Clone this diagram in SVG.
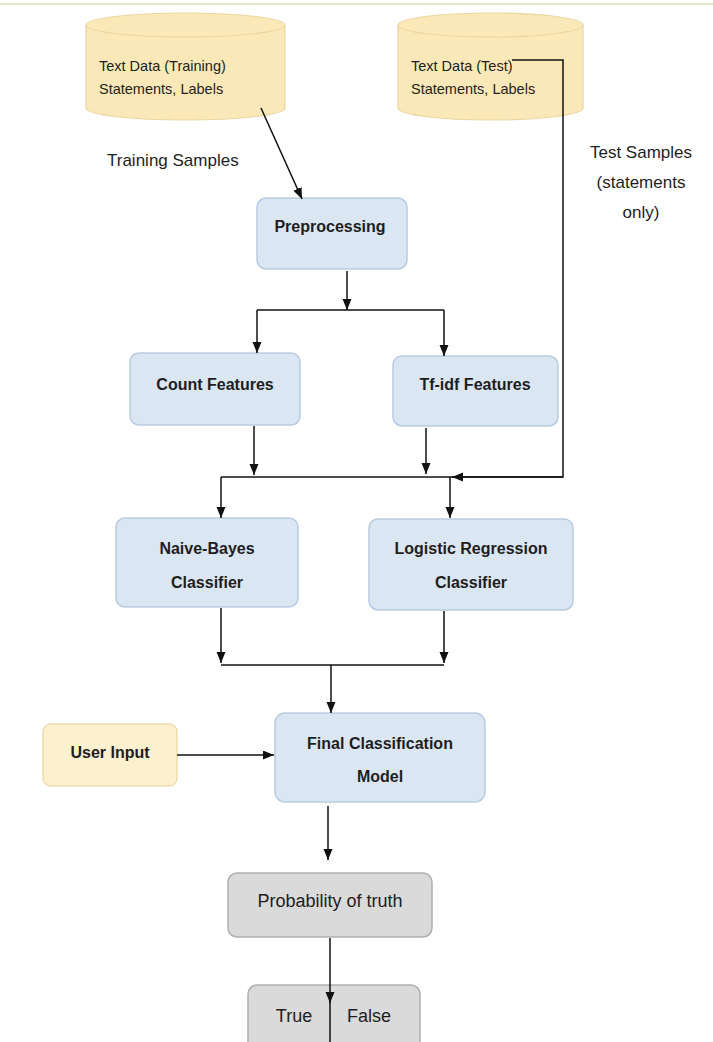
<svg xmlns="http://www.w3.org/2000/svg" width="713" height="1042" viewBox="0 0 713 1042">
<style>
.bg{fill:#ffffff}
.cyl{fill:#fbe8b8;stroke:#ead6a0;stroke-width:1.2}
.blue{fill:#dbe6f3;stroke:#b9cbe0;stroke-width:1.5}
.yel{fill:#fdf0cf;stroke:#ecdcae;stroke-width:1.5}
.gray{fill:#dadada;stroke:#aeaeae;stroke-width:1.5}
.t{font-family:"Liberation Sans",Arial,sans-serif;fill:#1e1e1e}
.b{font-weight:bold;font-size:16px;text-anchor:middle}
.s{font-size:14.5px}
.lbl{font-size:17px}
.g{font-size:18px;text-anchor:middle}
.c{fill:none;stroke:#111;stroke-width:1.5}
</style>
<defs>
<marker id="ah" markerUnits="userSpaceOnUse" markerWidth="12" markerHeight="10" refX="11" refY="4.5" orient="auto">
<path d="M0,0 L11,4.5 L0,9 Z" fill="#111"/>
</marker>
</defs>
<rect class="bg" x="0" y="0" width="713" height="1042"/>
<line x1="0" y1="4" x2="713" y2="4" stroke="#e4e6c6" stroke-width="2"/>

<g id="train-data">
<path class="cyl" d="M86,25 A99.5,12 0 0 1 285,25 L285,108 A99.5,12 0 0 1 86,108 Z"/>
<path class="cyl" d="M86,25 A99.5,12 0 0 0 285,25" fill="none"/>
<text class="t s" x="99" y="71">Text Data (Training)</text>
<text class="t s" x="99" y="94">Statements, Labels</text>
</g>

<g id="test-data">
<path class="cyl" d="M398,25 A92.5,12 0 0 1 583,25 L583,108 A92.5,12 0 0 1 398,108 Z"/>
<path class="cyl" d="M398,25 A92.5,12 0 0 0 583,25" fill="none"/>
<text class="t s" x="411" y="71">Text Data (Test)</text>
<text class="t s" x="411" y="94">Statements, Labels</text>
</g>

<g id="label-training">
<text class="t lbl" x="107" y="166">Training Samples</text>
</g>
<g id="label-test">
<text class="t lbl" x="641" y="158" text-anchor="middle">Test Samples</text>
<text class="t lbl" x="641" y="188" text-anchor="middle">(statements</text>
<text class="t lbl" x="641" y="218" text-anchor="middle">only)</text>
</g>

<g id="preprocessing">
<rect class="blue" x="257" y="198" width="150" height="71" rx="9"/>
<text class="t b" x="330" y="232">Preprocessing</text>
</g>

<g id="count-features">
<rect class="blue" x="130" y="353" width="170" height="72" rx="9"/>
<text class="t b" x="215" y="390">Count Features</text>
</g>

<g id="tfidf-features">
<rect class="blue" x="393" y="356" width="165" height="70" rx="9"/>
<text class="t b" x="475" y="390">Tf-idf Features</text>
</g>

<g id="naive-bayes">
<rect class="blue" x="116" y="518" width="182" height="89" rx="9"/>
<text class="t b" x="207" y="554">Naive-Bayes</text>
<text class="t b" x="207" y="588">Classifier</text>
</g>

<g id="logistic-regression">
<rect class="blue" x="369" y="519" width="204" height="91" rx="9"/>
<text class="t b" x="471" y="554">Logistic Regression</text>
<text class="t b" x="471" y="588">Classifier</text>
</g>

<g id="final-model">
<rect class="blue" x="275" y="713" width="210" height="89" rx="10"/>
<text class="t b" x="380" y="749">Final Classification</text>
<text class="t b" x="380" y="782">Model</text>
</g>

<g id="user-input">
<rect class="yel" x="43" y="724" width="134" height="62" rx="8"/>
<text class="t b" x="110" y="758">User Input</text>
</g>

<g id="probability">
<rect class="gray" x="228" y="873" width="204" height="64" rx="9"/>
<text class="t g" x="330" y="907">Probability of truth</text>
</g>

<g id="true-false">
<rect class="gray" x="248" y="985" width="172" height="70" rx="9"/>
<text class="t g" x="294" y="1022">True</text>
<text class="t g" x="369" y="1022">False</text>
</g>

<g id="connectors">
<line class="c" x1="261" y1="108" x2="302" y2="199" marker-end="url(#ah)"/>
<polyline class="c" points="512,60 563,60 563,477 452,477" marker-end="url(#ah)"/>
<line class="c" x1="347" y1="271" x2="347" y2="310" marker-end="url(#ah)"/>
<line class="c" x1="257" y1="310" x2="444" y2="310"/>
<line class="c" x1="257" y1="310" x2="257" y2="353" marker-end="url(#ah)"/>
<line class="c" x1="444" y1="310" x2="444" y2="356" marker-end="url(#ah)"/>
<line class="c" x1="254" y1="426" x2="254" y2="475" marker-end="url(#ah)"/>
<line class="c" x1="426" y1="428" x2="426" y2="474" marker-end="url(#ah)"/>
<line class="c" x1="221" y1="477" x2="563" y2="477"/>
<line class="c" x1="221" y1="477" x2="221" y2="518" marker-end="url(#ah)"/>
<line class="c" x1="450" y1="477" x2="450" y2="518" marker-end="url(#ah)"/>
<line class="c" x1="221" y1="608" x2="221" y2="663" marker-end="url(#ah)"/>
<line class="c" x1="444" y1="611" x2="444" y2="663" marker-end="url(#ah)"/>
<line class="c" x1="221" y1="665" x2="444" y2="665"/>
<line class="c" x1="331" y1="665" x2="331" y2="713" marker-end="url(#ah)"/>
<line class="c" x1="177" y1="755" x2="274" y2="755" marker-end="url(#ah)"/>
<line class="c" x1="328" y1="806" x2="328" y2="860" marker-end="url(#ah)"/>
<line class="c" x1="330" y1="938" x2="330" y2="1003" marker-end="url(#ah)"/>
<line class="c" x1="330" y1="1000" x2="330" y2="1042"/>
</g>
</svg>
